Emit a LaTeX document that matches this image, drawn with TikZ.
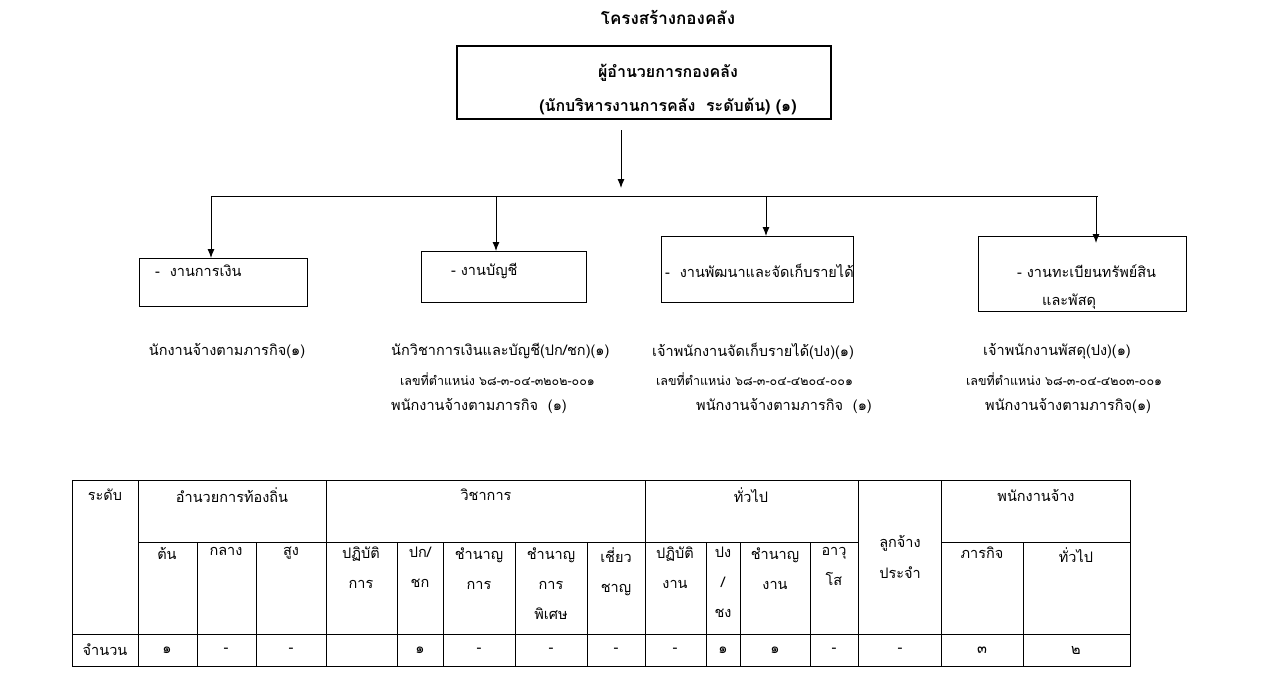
\documentclass[tikz,border=0pt]{standalone}
\usepackage{fontspec}
\setmainfont[Script=Thai]{Loma}
\usetikzlibrary{arrows.meta}
\begin{document}
\begin{tikzpicture}[x=1pt,y=-1pt,
 box/.style={draw,line width=0.8pt},
 arr/.style={-{Latex[length=9pt,width=7pt]},line width=0.9pt},
 t/.style={font=\fontsize{14.5}{17}\selectfont,inner sep=0pt},
 s/.style={font=\fontsize{12.5}{14}\selectfont,inner sep=0pt}]
\useasboundingbox (0,0) rectangle (1261,685);
\node[t,font=\fontsize{17}{19}\selectfont\bfseries] (title) at (668,17) {โครงสร้างกองคลัง};
\draw[line width=2.2pt] (457,46) rectangle (831,119);
\node[t,font=\fontsize{16}{18}\selectfont\bfseries] (d1) at (668,73) {ผู้อำนวยการกองคลัง};
\node[t,font=\fontsize{16}{18}\selectfont\bfseries] (d2) at (668,106) {(นักบริหารงานการคลัง\ \ ระดับต้น) (๑)};
\coordinate (top) at (621,130); \coordinate (mid) at (621,188);
\draw[arr] (top) -- (mid);
\coordinate (hl) at (211,196); \coordinate (hr) at (1098,196);
\draw[line width=0.8pt] (hl) -- (hr);
\draw[box] (139,258) rectangle (307,306);
\draw[box] (421,251) rectangle (586,302);
\draw[box] (661,236) rectangle (853,302);
\draw[box] (978,236) rectangle (1186,311);
\coordinate (a1) at (211,196); \coordinate (b1) at (211,258);
\coordinate (a2) at (496,196); \coordinate (b2) at (496,251);
\coordinate (a3) at (766,196); \coordinate (b3) at (766,236);
\coordinate (a4) at (1096,196); \coordinate (b4) at (1096,243);
\foreach \i in {1,...,4} \draw[arr] (a\i) -- (b\i);
\node[t,anchor=west] (g1) at (155,271) {-\ \ งานการเงิน};
\node[t,anchor=west] (g2) at (451,271) {- งานบัญชี};
\node[t,anchor=west] (g3) at (665,271) {-\ \ งานพัฒนาและจัดเก็บรายได้};
\node[t,anchor=west] (g4) at (1017,271) {- งานทะเบียนทรัพย์สิน};
\node[t,anchor=west] (g4b) at (1042,302) {และพัสดุ};
\node[t] (p1) at (227,351) {นักงานจ้างตามภารกิจ(๑)};
\node[t,anchor=west] (p2) at (391,351) {นักวิชาการเงินและบัญชี(ปก/ชก)(๑)};
\node[s,anchor=west] (p2b) at (400,379) {เลขที่ตำแหน่ง ๖๘-๓-๐๔-๓๒๐๒-๐๐๑};
\node[t,anchor=west] (p2c) at (391,406) {พนักงานจ้างตามภารกิจ\ \ (๑)};
\node[t,anchor=west] (p3) at (652,351) {เจ้าพนักงานจัดเก็บรายได้(ปง)(๑)};
\node[s,anchor=west] (p3b) at (656,379) {เลขที่ตำแหน่ง ๖๘-๓-๐๔-๔๒๐๔-๐๐๑};
\node[t,anchor=west] (p3c) at (696,406) {พนักงานจ้างตามภารกิจ\ \ (๑)};
\node[t,anchor=west] (p4) at (983,351) {เจ้าพนักงานพัสดุ(ปง)(๑)};
\node[s,anchor=west] (p4b) at (966,379) {เลขที่ตำแหน่ง ๖๘-๓-๐๔-๔๒๐๓-๐๐๑};
\node[t,anchor=west] (p4c) at (985,406) {พนักงานจ้างตามภารกิจ(๑)};
% table
\begin{scope}[line width=0.6pt]
\draw (72,480) rectangle (1130,666);
\draw (72,634) -- (1130,634);
\draw (138,542) -- (858,542); \draw (941,542) -- (1130,542);
\foreach \x in {138,326,645,858,941} \draw (\x,480) -- (\x,666);
\foreach \x in {197,256,397,443,515,587,706,740,810,1023} \draw (\x,542) -- (\x,666);
\end{scope}
\node[t] (h0) at (105,495) {ระดับ};
\node[t] (h1) at (232,495) {อำนวยการท้องถิ่น};
\node[t] (h2) at (486,495) {วิชาการ};
\node[t] (h3) at (751,495) {ทั่วไป};
\node[t] (h4) at (1036,495) {พนักงานจ้าง};
\node[t,align=center,font=\fontsize{14.5}{31}\selectfont] (h5) at (900,557) {ลูกจ้าง\\ประจำ};
\foreach \x/\txt [count=\k] in {167/ต้น,226/กลาง,291/สูง,361/{ปฏิบัติ\\การ},420/{ปก/\\ชก},479/{ชำนาญ\\การ},551/{ชำนาญ\\การ\\พิเศษ},616/{เชี่ยว\\ชาญ},675/{ปฏิบัติ\\งาน},723/{ปง\\/\\ชง},775/{ชำนาญ\\งาน},834/{อาวุ\\โส},982/ภารกิจ,1076/ทั่วไป}
  \node[t,align=center,anchor=north,font=\fontsize{14.5}{30}\selectfont] (c\k) at (\x,547) {\txt};
\node[t] (r0) at (105,650) {จำนวน};
\foreach \x/\v [count=\k] in {167/๑,226/-,291/-,420/๑,479/-,551/-,616/-,675/-,723/๑,775/๑,834/-,900/-,982/๓,1076/๒}
  \node[t] (v\k) at (\x,650) {\v};
\end{tikzpicture}
\end{document}
